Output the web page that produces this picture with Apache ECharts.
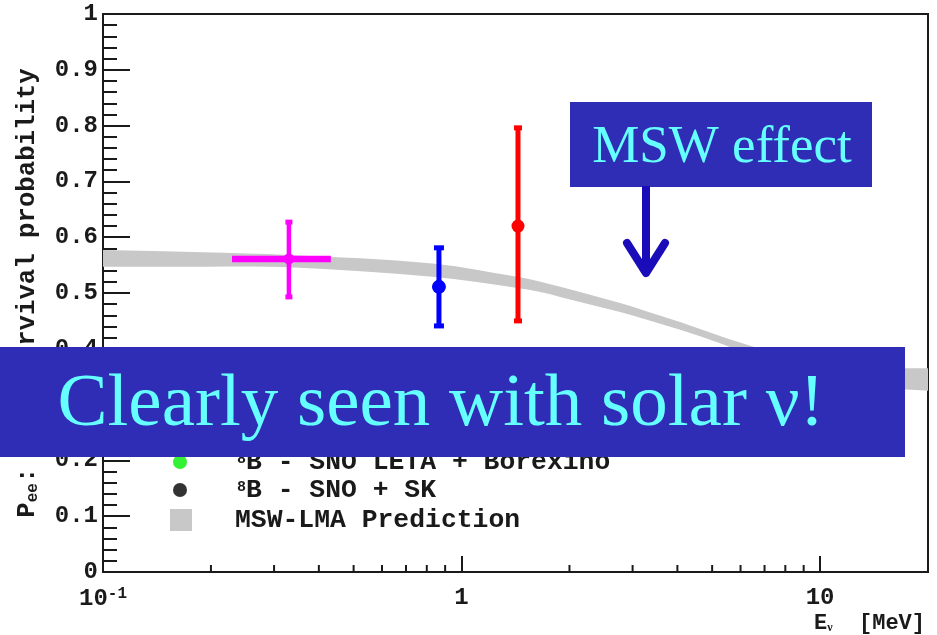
<!DOCTYPE html>
<html>
<head>
<meta charset="utf-8">
<title>Solar neutrino survival probability</title>
<script src="https://cdn.jsdelivr.net/npm/echarts@6/dist/echarts.min.js"></script>
<style>
  html, body { margin: 0; padding: 0; background: #ffffff; }
  #chart { width: 937px; height: 635px; }
</style>
</head>
<body>
<div id="chart"></div>
<script>
// ---- data -------------------------------------------------------------
// MSW-LMA prediction band: lower / upper edge of Pee versus energy (MeV)
const bandEnergy = [0.1, 0.19, 0.33, 0.83, 1.43, 1.66, 2.14, 2.77, 3.29, 4.07, 5.26, 7.0, 9.5, 13.0, 20.0];
const bandLower  = [0.547, 0.547, 0.546, 0.529, 0.509, 0.502, 0.484, 0.466, 0.452, 0.434, 0.410, 0.380, 0.353, 0.333, 0.325];
const bandUpper  = [0.577, 0.573, 0.568, 0.553, 0.529, 0.520, 0.502, 0.482, 0.467, 0.448, 0.423, 0.398, 0.379, 0.367, 0.365];

// Measured survival probabilities (pp, 7Be, pep)
const sourceNames      = ['pp', '7Be', 'pep'];
const sourceEnergy     = [0.330, 0.865, 1.437];
const sourceEnergyLow  = [0.229, null, null];
const sourceEnergyHigh = [0.432, null, null];
const sourcePee        = [0.561, 0.511, 0.620];
const sourcePeeLow     = [0.493, 0.441, 0.450];
const sourcePeeHigh    = [0.627, 0.581, 0.796];

// Legend entries
const legendPointNames = ['8B - SNO LETA + Borexino', '8B - SNO + SK'];
const legendBandName   = 'MSW-LMA Prediction';

// Axis decorations
const xMinorTickValues = [0.2, 0.3, 0.4, 0.5, 0.6, 0.7, 0.8, 0.9, 2, 3, 4, 5, 6, 7, 8, 9];

// ---- styles -----------------------------------------------------------
const MONO  = '"Liberation Mono", "Courier New", monospace';
const SERIF = '"Liberation Serif", "Times New Roman", serif';
const INK   = '#1a1a1a';
const sourceColors   = ['#ff00ff', '#0000ff', '#ff0000'];
const sourceBarWidth = [4.5, 5, 5];
const sourceCapWidth = [7, 10, 8];
const sourceMarkerR  = [5.5, 7, 6.5];
const legendPointColors = ['#00ee00', '#000000'];
const bandColor = '#c8c8c8';
const bannerColor = '#2f2db6';
const bannerText  = '#66ffff';
const arrowColor  = '#1a0cb8';

// ---- chart ------------------------------------------------------------
const chart = echarts.init(document.getElementById('chart'), null, { renderer: 'canvas' });

const bandData = bandEnergy.map((e, i) => [e, bandLower[i], bandUpper[i]]);

const sourceData = sourceNames.map((n, i) => [
  sourceEnergy[i], sourcePee[i], sourcePeeLow[i], sourcePeeHigh[i],
  sourceEnergyLow[i] == null ? '-' : sourceEnergyLow[i],
  sourceEnergyHigh[i] == null ? '-' : sourceEnergyHigh[i]
]);

// Hermite tangents for a smooth edge through pixel points
function tangents(pts) {
  const n = pts.length, m = [];
  for (let i = 0; i < n; i++) {
    const a = pts[Math.max(0, i - 1)], b = pts[Math.min(n - 1, i + 1)];
    m.push((b[1] - a[1]) / (b[0] - a[0]));
  }
  return m;
}

// One closed path: smooth upper edge left→right, smooth lower edge right→left
function renderBand(params, api) {
  if (params.dataIndexInside !== 0) return null;
  const n = params.dataInsideLength;
  const up = [], lo = [];
  for (let k = 0; k < n; k++) {
    const e = api.value(0, k);
    up.push(api.coord([e, api.value(2, k)]));
    lo.push(api.coord([e, api.value(1, k)]));
  }
  const mu = tangents(up), ml = tangents(lo);
  let d = 'M' + up[0][0] + ',' + up[0][1];
  for (let i = 0; i < n - 1; i++) {
    const h = (up[i + 1][0] - up[i][0]) / 3;
    d += 'C' + (up[i][0] + h) + ',' + (up[i][1] + mu[i] * h) + ' ' +
         (up[i + 1][0] - h) + ',' + (up[i + 1][1] - mu[i + 1] * h) + ' ' +
         up[i + 1][0] + ',' + up[i + 1][1];
  }
  d += 'L' + lo[n - 1][0] + ',' + lo[n - 1][1];
  for (let i = n - 2; i >= 0; i--) {
    const h = (lo[i + 1][0] - lo[i][0]) / 3;
    d += 'C' + (lo[i + 1][0] - h) + ',' + (lo[i + 1][1] - ml[i + 1] * h) + ' ' +
         (lo[i][0] + h) + ',' + (lo[i][1] + ml[i] * h) + ' ' +
         lo[i][0] + ',' + lo[i][1];
  }
  d += 'Z';
  return { type: 'path', shape: { pathData: d }, style: { fill: bandColor }, silent: true };
}

function renderErrorBar(params, api) {
  const i = params.dataIndex;
  const color = sourceColors[i];
  const w = sourceBarWidth[i];
  const cw = sourceCapWidth[i];
  const e = api.value(0), p = api.value(1);
  const c  = api.coord([e, p]);
  const lo = api.coord([e, api.value(2)]);
  const hi = api.coord([e, api.value(3)]);
  const children = [
    { type: 'line', shape: { x1: c[0], y1: lo[1], x2: c[0], y2: hi[1] },
      style: { stroke: color, lineWidth: w } },
    { type: 'rect', shape: { x: c[0] - cw / 2, y: hi[1] - 2.5, width: cw, height: 5 },
      style: { fill: color } },
    { type: 'rect', shape: { x: c[0] - cw / 2, y: lo[1] - 2.5, width: cw, height: 5 },
      style: { fill: color } }
  ];
  const el = api.value(4), eh = api.value(5);
  if (!isNaN(el) && !isNaN(eh)) {
    const l = api.coord([el, p]);
    const r = api.coord([eh, p]);
    children.push({ type: 'line', shape: { x1: l[0], y1: c[1], x2: r[0], y2: c[1] },
      style: { stroke: color, lineWidth: 6.5 } });
  }
  children.push({ type: 'circle', shape: { cx: c[0], cy: c[1], r: sourceMarkerR[i] },
    style: { fill: color } });
  return { type: 'group', children: children };
}

function renderMinorTick(params, api) {
  const p = api.coord([api.value(0), 0]);
  return { type: 'line', shape: { x1: p[0], y1: p[1], x2: p[0], y2: p[1] - 7 },
    style: { stroke: INK, lineWidth: 2 } };
}

const option = {
  animation: false,
  backgroundColor: '#ffffff',
  grid: {
    left: 103, right: 9, top: 14, bottom: 63,
    show: true, borderColor: INK, borderWidth: 2, backgroundColor: 'transparent'
  },
  xAxis: {
    type: 'log',
    logBase: 10,
    min: 0.1,
    max: 20,
    axisLine: { show: true, lineStyle: { color: INK, width: 2 } },
    axisTick: { show: true, inside: true, length: 16, lineStyle: { color: INK, width: 2 } },
    splitLine: { show: false },
    axisLabel: {
      margin: 14,
      showMaxLabel: false,
      fontFamily: MONO, fontWeight: 'bold', fontSize: 24, color: INK,
      formatter: function (v) {
        const k = Math.round(Math.log10(v));
        if (Math.abs(Math.log10(v) - k) > 1e-6) return '';
        if (k === 0) return '1';
        if (k === 1) return '10';
        return '10{sup|' + k + '}';
      },
      rich: {
        sup: { fontFamily: MONO, fontWeight: 'bold', fontSize: 16, color: INK, verticalAlign: 'top', padding: [0, 0, 10, 0] }
      }
    },
    name: '{b|E}{s|\u03bd}{b|  [MeV]}',
    nameLocation: 'end',
    nameGap: -3,
    nameTextStyle: {
      align: 'right', verticalAlign: 'top', padding: [40, 0, 0, 0],
      fontFamily: MONO, fontWeight: 'bold', fontSize: 22, color: INK,
      rich: {
        b: { fontFamily: MONO, fontWeight: 'bold', fontSize: 22, color: INK },
        s: { fontFamily: SERIF, fontSize: 12, color: INK, verticalAlign: 'bottom' }
      }
    }
  },
  yAxis: {
    type: 'value',
    min: 0,
    max: 1,
    interval: 0.1,
    axisLine: { show: true, lineStyle: { color: INK, width: 2 } },
    axisTick: { show: true, inside: true, length: 27, lineStyle: { color: INK, width: 2 } },
    minorTick: { show: true, splitNumber: 5, length: 14, lineStyle: { color: INK, width: 2 } },
    splitLine: { show: false },
    axisLabel: {
      margin: 5,
      fontFamily: MONO, fontWeight: 'bold', fontSize: 24, color: INK,
      formatter: function (v) { return String(+v.toFixed(1)); }
    },
    name: '{m|P}{s|ee}{m|:}{g| \u03bd}{s|e}{m| survival probability}',
    nameLocation: 'middle',
    nameRotate: 90,
    nameGap: 62,
    nameTextStyle: {
      fontFamily: MONO, fontWeight: 'bold', fontSize: 25.7, color: INK,
      rich: {
        m: { fontFamily: MONO, fontWeight: 'bold', fontSize: 25.7, color: INK },
        s: { fontFamily: MONO, fontWeight: 'bold', fontSize: 16, color: INK, verticalAlign: 'bottom' },
        g: { fontFamily: MONO, fontWeight: 'bold', fontSize: 25.7, color: INK, width: 66 }
      }
    }
  },
  legend: [
    {
      orient: 'vertical',
      left: 173, top: 449,
      padding: 0,
      itemWidth: 14, itemHeight: 14, itemGap: 2,
      selectedMode: false,
      data: legendPointNames.map((n, i) => ({ name: n, icon: 'circle', itemStyle: { color: legendPointColors[i] } })),
      formatter: function (name) { return name.replace(/^8B/, '{sup|8}B'); },
      textStyle: {
        fontFamily: MONO, fontWeight: 'bold', fontSize: 26.4, color: INK,
        lineHeight: 20, padding: [0, 0, 0, 45],
        rich: {
          sup: { fontFamily: MONO, fontWeight: 'bold', fontSize: 15, color: INK, verticalAlign: 'top', lineHeight: 20 }
        }
      }
    },
    {
      orient: 'vertical',
      left: 170, top: 507,
      padding: 0,
      itemWidth: 22, itemHeight: 22,
      selectedMode: false,
      data: [{ name: legendBandName, icon: 'rect', itemStyle: { color: bandColor } }],
      textStyle: {
        fontFamily: MONO, fontWeight: 'bold', fontSize: 26.4, color: INK,
        padding: [0, 0, 0, 38]
      }
    }
  ],
  series: [
    {
      name: legendBandName,
      type: 'custom',
      renderItem: renderBand,
      data: bandData,
      encode: { x: 0, y: [1, 2] },
      itemStyle: { color: bandColor },
      clip: true,
      z: 1,
      silent: true
    },
    {
      name: legendPointNames[0], type: 'scatter', data: [],
      itemStyle: { color: legendPointColors[0] }
    },
    {
      name: legendPointNames[1], type: 'scatter', data: [],
      itemStyle: { color: legendPointColors[1] }
    },
    {
      name: 'Measurements',
      type: 'custom',
      renderItem: renderErrorBar,
      data: sourceData,
      encode: { x: 0, y: 1 },
      z: 5,
      silent: true
    },
    {
      name: 'x minor ticks',
      type: 'custom',
      renderItem: renderMinorTick,
      data: xMinorTickValues.map(v => [v, 0]),
      encode: { x: 0, y: 1 },
      clip: false,
      z: 6,
      silent: true
    }
  ],
  graphic: [
    // "MSW effect" box with arrow
    { type: 'rect', z: 100, shape: { x: 570, y: 102, width: 302, height: 85 }, style: { fill: bannerColor } },
    { type: 'text', z: 101, style: {
        x: 722, y: 148, text: 'MSW effect', align: 'center', verticalAlign: 'middle',
        font: '53px ' + SERIF, fill: bannerText } },
    { type: 'line', z: 100, shape: { x1: 646, y1: 186, x2: 646, y2: 270 },
      style: { stroke: arrowColor, lineWidth: 8 } },
    { type: 'polyline', z: 100, shape: { points: [[627, 243], [646, 273], [665, 243]] },
      style: { stroke: arrowColor, lineWidth: 8, lineCap: 'round', lineJoin: 'round', fill: null } },
    // bottom banner
    { type: 'rect', z: 100, shape: { x: 0, y: 347, width: 905, height: 110 }, style: { fill: bannerColor } },
    { type: 'text', z: 101, style: {
        x: 441, y: 405, text: 'Clearly seen with solar \u03bd!', align: 'center', verticalAlign: 'middle',
        font: '75px ' + SERIF, fill: bannerText } }
  ]
};

chart.setOption(option);
</script>
</body>
</html>
